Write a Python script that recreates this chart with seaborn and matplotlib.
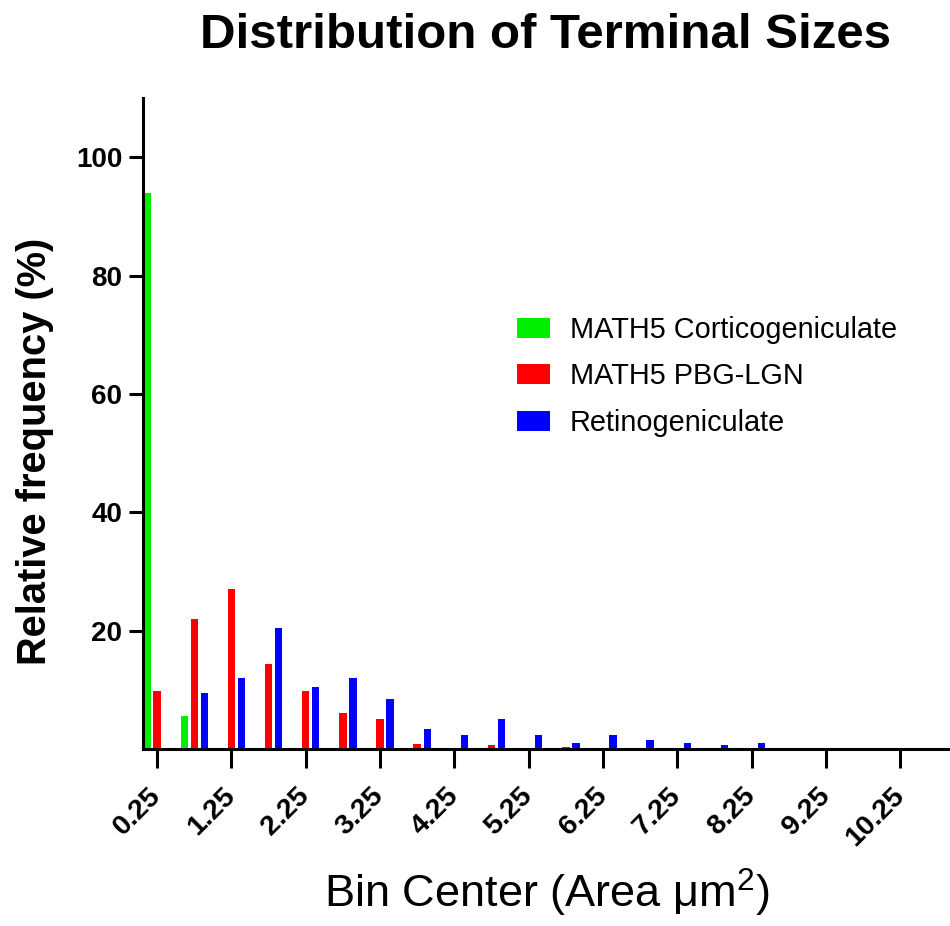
import numpy as np
import pandas as pd
import matplotlib
matplotlib.use("Agg")
import matplotlib.pyplot as plt
import seaborn as sns

# bin centers (area, um^2) and relative frequency (%) per group
bin_centers = [0.25, 0.75, 1.25, 1.75, 2.25, 2.75, 3.25, 3.75, 4.25, 4.75, 5.25,
               5.75, 6.25, 6.75, 7.25, 7.75, 8.25, 8.75, 9.25, 9.75, 10.25, 10.75]
corticogeniculate = [94.0, 5.5, 0, 0, 0, 0, 0, 0, 0, 0, 0,
                     0, 0, 0, 0, 0, 0, 0, 0, 0, 0, 0]
pbg_lgn = [9.8, 22.0, 27.0, 14.3, 9.8, 6.0, 5.0, 0.9, 0, 0.6, 0.2,
           0.3, 0, 0, 0, 0, 0, 0, 0, 0, 0, 0]
retinogeniculate = [0, 9.4, 12.0, 20.4, 10.4, 12.0, 8.5, 3.3, 2.4, 5.1, 2.4,
                    1.0, 2.4, 1.5, 1.0, 0.6, 1.0, 0, 0, 0, 0, 0]

series_names = ["MATH5 Corticogeniculate", "MATH5 PBG-LGN", "Retinogeniculate"]
series_colors = ["#00ee00", "#ff0000", "#0000ff"]
tick_values = [0.25, 1.25, 2.25, 3.25, 4.25, 5.25, 6.25, 7.25, 8.25, 9.25, 10.25]
y_ticks = [20, 40, 60, 80, 100]

df = pd.DataFrame({
    "bin": bin_centers * 3,
    "freq": corticogeniculate + pbg_lgn + retinogeniculate,
    "group": [series_names[0]] * len(bin_centers)
             + [series_names[1]] * len(bin_centers)
             + [series_names[2]] * len(bin_centers),
})

sns.set_style("ticks")
plt.rcParams["font.family"] = ["Liberation Sans", "DejaVu Sans"]
plt.rcParams["mathtext.fontset"] = "custom"
plt.rcParams["mathtext.rm"] = "Liberation Sans"
for key in ["text.color", "axes.labelcolor", "xtick.color", "ytick.color"]:
    plt.rcParams[key] = "black"

W, H = 950, 926
fig = plt.figure(figsize=(W / 100, H / 100), dpi=100)
ax = fig.add_axes([143 / W, 1 - 749 / H, 807 / W, 651 / H])

sns.barplot(data=df, x="bin", y="freq", hue="group", hue_order=series_names,
            palette=series_colors, native_scale=True, width=0.81, gap=0.26,
            linewidth=0, errorbar=None, saturation=1, ax=ax)

ax.set_xlim(0.06, 10.92)
ax.set_ylim(0, 110)

# axes styling
for side in ["top", "right"]:
    ax.spines[side].set_visible(False)
for side in ["left", "bottom"]:
    ax.spines[side].set_linewidth(2.2)
    ax.spines[side].set_color("black")

ax.set_xticks(tick_values)
ax.set_xticklabels([f"{v:.2f}" for v in tick_values], rotation=45, ha="right",
                   va="center", rotation_mode="anchor", fontsize=20.5, fontweight="bold")
ax.set_yticks(y_ticks)
ax.set_yticklabels([str(v) for v in y_ticks], fontsize=20, fontweight="bold")
ax.tick_params(axis="x", length=14, width=2.2, pad=17, color="black")
ax.tick_params(axis="y", length=10, width=2.2, pad=5, color="black")

ax.set_xlabel("Bin Center (Area μm$\\mathrm{^2}$)", fontsize=32.5)
ax.xaxis.label.set_va("center")
ax.xaxis.set_label_coords((547 - 143) / 807, (749 - 893) / 651)
ax.set_ylabel("Relative frequency (%)", fontsize=28.7, fontweight="bold")
ax.yaxis.label.set_va("center")
ax.yaxis.set_label_coords((35 - 143) / 807, (749 - 451) / 651)

fig.text(545 / W, 1 - 35 / H, "Distribution of Terminal Sizes", ha="center",
         va="center", fontsize=35.5, fontweight="bold")

handles, labels = ax.get_legend_handles_labels()
ax.legend(handles, labels, loc="upper left", bbox_to_anchor=(517 / W, 1 - 316 / H),
          bbox_transform=fig.transFigure, frameon=False, fontsize=20.8,
          borderpad=0, borderaxespad=0, labelspacing=0.64, handlelength=1.14,
          handleheight=0.69, handletextpad=0.69)

fig.savefig("out.png", dpi=100)
